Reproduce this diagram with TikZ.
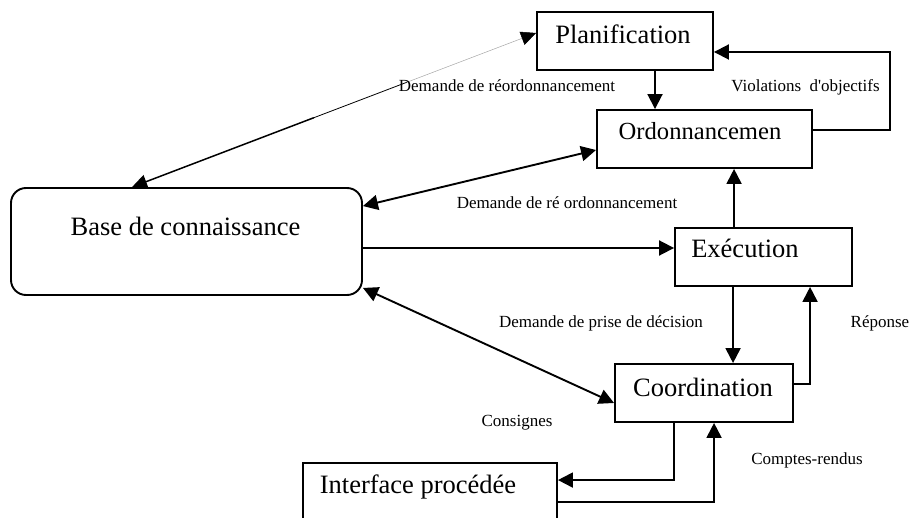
\documentclass[tikz,border=0pt]{standalone}
\usepackage{fontspec}
\setmainfont{Liberation Serif}
\usetikzlibrary{arrows.meta,calc}
\begin{document}
\begin{tikzpicture}[x=1pt,y=-1pt,
  box/.style={draw, line width=1.9pt, inner sep=0pt},
  boxtext/.style={anchor=base, inner sep=0pt, font=\fontsize{26.5}{30}\selectfont},
  lbl/.style={anchor=base, inner sep=0pt, font=\fontsize{17}{20}\selectfont},
  conn/.style={line width=1.9pt, -{Triangle[length=15pt,width=15pt]}},
  bothconn/.style={line width=1.9pt, {Triangle[length=15pt,width=15pt]}-{Triangle[length=15pt,width=15pt]}}]
\path[use as bounding box] (0,0) rectangle (913,518);
\clip (0,0) rectangle (913,518);
% boxes
\node[box, minimum width=176pt, minimum height=58pt] (plan) at (625,41) {};
\node[box, minimum width=215pt, minimum height=58pt] (ordo) at (704.5,139) {};
\node[box, rounded corners=15pt, minimum width=351pt, minimum height=107pt] (base) at (186.5,241.5) {};
\node[box, minimum width=177pt, minimum height=58pt] (exec) at (763.5,257) {};
\node[box, minimum width=178pt, minimum height=58pt] (coord) at (704,393) {};
\node[box, minimum width=254pt, minimum height=80pt] (iface) at (430,503) {};
% box texts
\node[boxtext] (plan-t) at (623,44) {Planification};
\node[boxtext, font=\fontsize{24.6}{28}\selectfont] (ordo-t) at (700,140) {Ordonnancemen};
\node[boxtext] (base-t) at (185.5,236) {Base de connaissance};
\node[boxtext] (exec-t) at (745,258) {Exécution};
\node[boxtext] (coord-t) at (703,397) {Coordination};
\node[boxtext] (iface-t) at (418,493) {Interface procédée};
% thin fading connector Base <-> Planification
\coordinate (pb) at ($(base.north west)+(122,0)$);
\coordinate (pp) at ($(plan.west)+(0,-8)$);
\draw[line width=1.5pt, {Triangle[length=15pt,width=14pt]}-] (pb) -- ($(pb)!0.45!(pp)$);
\draw[line width=0.8pt] ($(pb)!0.45!(pp)$) -- ($(pb)!0.68!(pp)$);
\draw[line width=0.5pt, gray!70, -{Triangle[length=15pt,width=14pt,color=black]}] ($(pb)!0.68!(pp)$) -- (pp);
% Base <-> Ordonnancement
\draw[bothconn] ($(base.north east)+(0,19)$) -- ($(ordo.west)+(0,11)$);
% Planification -> Ordonnancement
\coordinate (p1) at ($(plan.south)+(30,0)$);
\draw[conn] (p1) -- (p1 |- ordo.north);
% Ordonnancement -> Planification loop
\coordinate (o1) at ($(ordo.east)+(0,-9)$);
\coordinate (o2) at ($(plan.east)+(0,11)$);
\draw[conn] (o1) -- ++(77,0) |- (o2);
% Base -> Execution
\coordinate (e1) at ($(exec.west)+(0,-9)$);
\draw[conn] (base.east |- e1) -- (e1);
% Execution -> Ordonnancement
\coordinate (e2) at ($(exec.north west)+(60,0)$);
\draw[conn] (e2) -- (e2 |- ordo.south);
% Execution -> Coordination
\coordinate (e3) at ($(exec.south west)+(59,0)$);
\draw[conn] (e3) -- (e3 |- coord.north);
% Coordination -> Execution (Reponse)
\coordinate (c1) at ($(coord.east)+(-2,-9)$);
\coordinate (r1) at ($(exec.south west)+(136,0)$);
\draw[conn] (c1) -| (r1);
% Base <-> Coordination
\draw[bothconn] ($(base.south east)+(0,-8)$) -- ($(coord.west)+(0,10)$);
% Coordination -> Interface
\coordinate (k1) at ($(coord.south west)+(60,0)$);
\coordinate (k2) at ($(iface.north east)+(0,18)$);
\draw[conn] (k1) |- (k2);
% Interface -> Coordination
\coordinate (m1) at ($(iface.north east)+(0,40)$);
\coordinate (m2) at ($(coord.south west)+(100,0)$);
\draw[conn] (m1) -| (m2);
% labels
\node[lbl] (l1) at (507,92) {Demande de réordonnancement};
\node[lbl] (l2) at (805.5,92) {Violations\ \ d\textquotesingle objectifs};
\node[lbl] (l3) at (567,209) {Demande de ré ordonnancement};
\node[lbl] (l4) at (601,328) {Demande de prise de décision};
\node[lbl] (l5) at (880,328) {Réponse};
\node[lbl] (l6) at (517,427) {Consignes};
\node[lbl] (l7) at (807,464) {Comptes-rendus};
\end{tikzpicture}
\end{document}
